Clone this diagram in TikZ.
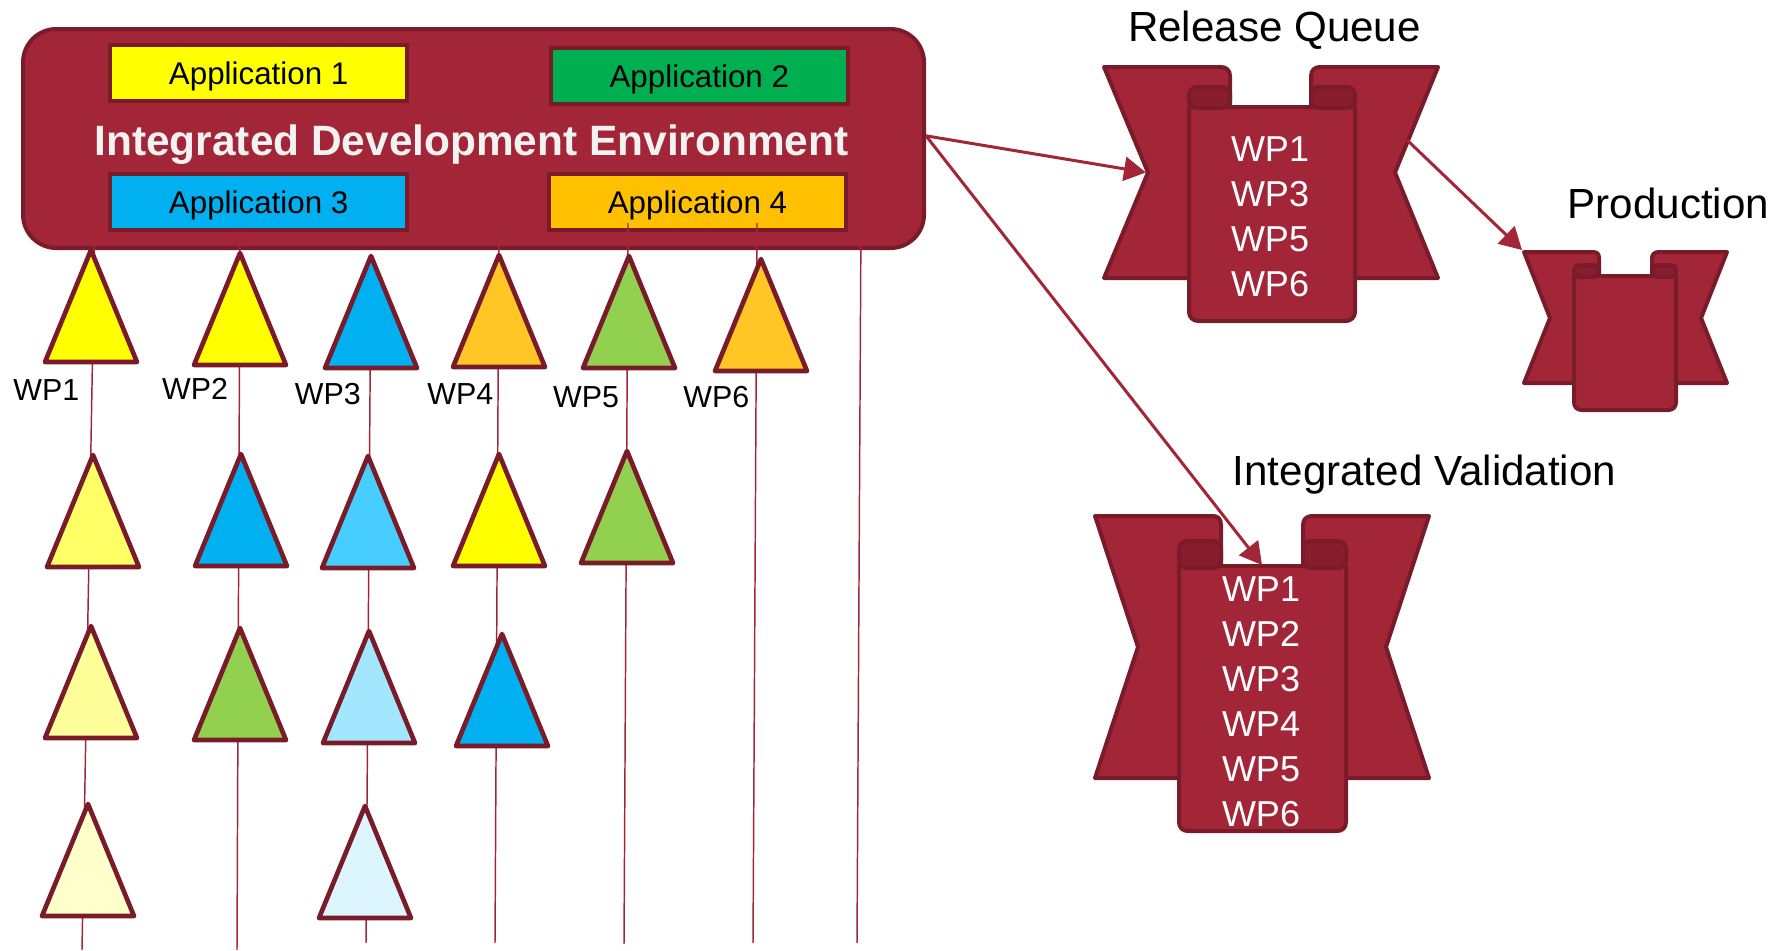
\documentclass[tikz,border=0pt]{standalone}
\usepackage{fontspec}
\setmainfont{Liberation Sans}
\usetikzlibrary{arrows.meta}

\definecolor{ideRed}{RGB}{163,38,56}
\definecolor{ideEdge}{RGB}{122,27,42}
\definecolor{curlRed}{RGB}{136,29,46}
\definecolor{appYellow}{RGB}{255,255,0}
\definecolor{appGreen}{RGB}{0,176,80}
\definecolor{appBlue}{RGB}{0,176,240}
\definecolor{appOrange}{RGB}{255,192,0}
\definecolor{wpGold}{RGB}{255,198,37}
\definecolor{wpLime}{RGB}{146,208,80}
\definecolor{wpYellowA}{RGB}{255,255,102}
\definecolor{wpYellowB}{RGB}{255,255,153}
\definecolor{wpYellowC}{RGB}{255,255,204}
\definecolor{wpBlueA}{RGB}{71,205,255}
\definecolor{wpBlueB}{RGB}{163,231,255}
\definecolor{wpBlueC}{RGB}{221,245,255}

\tikzset{
  idebox/.style={draw=ideEdge, line width=3pt, fill=ideRed, rounded corners=25pt,
    minimum width=675.75pt, minimum height=164.25pt, inner sep=0pt},
  appbox/.style={draw=ideEdge, line width=3.2pt, minimum width=222.75pt, minimum height=42pt,
    inner sep=0pt, text height=17.2pt, text depth=0pt, font=\fontsize{23.5}{28}\selectfont},
  idetitle/.style={text=white!95!black, inner sep=0pt, font=\bfseries\fontsize{31.8}{36}\selectfont},
  wire/.style={ideRed, line width=1.1pt},
  wptri/.style={draw=ideEdge, line width=3.5pt, line join=round},
  scrollpart/.style={draw=ideEdge, fill=ideRed, line width=3pt, line join=round},
  curlpart/.style={draw=ideEdge, fill=curlRed, line width=3pt, rounded corners=6pt},
  flow/.style={ideRed, line width=2.25pt, -{Triangle[length=16.5pt,width=18pt]}},
  titletext/.style={inner sep=0pt, font=\fontsize{31.6}{38}\selectfont},
  wpwhite/.style={text=white, inner sep=0pt, font=\fontsize{27}{32}\selectfont},
  wpblack/.style={inner sep=0pt, font=\fontsize{22.8}{27}\selectfont}
}

\begin{document}
\begin{tikzpicture}[x=0.75pt,y=0.75pt,yscale=-1,xscale=1]
\useasboundingbox (0,0) rectangle (1777,950);

%Shape: Rounded Rect
\node[idebox] (ide) at (473.5,138.5) {};
%Shape: Rectangle
\node[appbox, fill=appYellow] (app1) at (258.7,72.7) {Application 1};
\node[appbox, fill=appGreen] (app2) at (699.3,76.3) {Application 2};
\node[appbox, fill=appBlue] (app3) at (258.7,202) {Application 3};
\node[appbox, fill=appOrange] (app4) at (697.5,202) {Application 4};
% Text Node
\node[idetitle, anchor=base] (idetext) at (471.5,155) {Integrated Development Environment};

%Straight Lines
\coordinate (w1top) at (95,217);  \coordinate (w1end) at (82,950);
\coordinate (w2top) at (240,230); \coordinate (w2end) at (237,950);
\coordinate (w3top) at (371,256); \coordinate (w3end) at (366,943);
\coordinate (w4top) at (499,222); \coordinate (w4end) at (495,943);
\coordinate (w5top) at (628,223); \coordinate (w5end) at (624,944);
\coordinate (w6top) at (757,223); \coordinate (w6end) at (753,943);
\coordinate (w7top) at (861,220); \coordinate (w7end) at (857,943);
\draw[wire] (w1top) -- (w1end);
\draw[wire] (w2top) -- (w2end);
\draw[wire] (w3top) -- (w3end);
\draw[wire] (w4top) -- (w4end);
\draw[wire] (w5top) -- (w5end);
\draw[wire] (w6top) -- (w6end);
\draw[wire] (w7top) -- (w7end);

%Shape: Triangle (first row)
\draw[wptri, fill=appYellow] (91,250) -- ++(46,112) -- ++(-92,0) -- cycle;
\draw[wptri, fill=appYellow] (240,253) -- ++(46,112) -- ++(-92,0) -- cycle;
\draw[wptri, fill=appBlue] (371,256) -- ++(46,112) -- ++(-92,0) -- cycle;
\draw[wptri, fill=wpGold] (499,255) -- ++(46,112) -- ++(-92,0) -- cycle;
\draw[wptri, fill=wpLime] (629,256) -- ++(46,112) -- ++(-92,0) -- cycle;
\draw[wptri, fill=wpGold] (761,259) -- ++(46,112) -- ++(-92,0) -- cycle;
%Shape: Triangle (second row)
\draw[wptri, fill=wpYellowA] (93,455) -- ++(46,112) -- ++(-92,0) -- cycle;
\draw[wptri, fill=appBlue] (241,454) -- ++(46,112) -- ++(-92,0) -- cycle;
\draw[wptri, fill=wpBlueA] (368,456) -- ++(46,112) -- ++(-92,0) -- cycle;
\draw[wptri, fill=appYellow] (499,454) -- ++(46,112) -- ++(-92,0) -- cycle;
\draw[wptri, fill=wpLime] (627,451) -- ++(46,112) -- ++(-92,0) -- cycle;
%Shape: Triangle (third row)
\draw[wptri, fill=wpYellowB] (91,626) -- ++(46,112) -- ++(-92,0) -- cycle;
\draw[wptri, fill=wpLime] (240,628) -- ++(46,112) -- ++(-92,0) -- cycle;
\draw[wptri, fill=wpBlueB] (369,631) -- ++(46,112) -- ++(-92,0) -- cycle;
\draw[wptri, fill=appBlue] (502,634) -- ++(46,112) -- ++(-92,0) -- cycle;
%Shape: Triangle (fourth row)
\draw[wptri, fill=wpYellowC] (88,804) -- ++(46,112) -- ++(-92,0) -- cycle;
\draw[wptri, fill=wpBlueC] (365,806) -- ++(46,112) -- ++(-92,0) -- cycle;

% Text Node
\node[wpblack, anchor=base] (wp1) at (46.3,400) {WP1};
\node[wpblack, anchor=base] (wp2) at (195,399.3) {WP2};
\node[wpblack, anchor=base] (wp3) at (327.8,404.3) {WP3};
\node[wpblack, anchor=base] (wp4) at (460.4,404.3) {WP4};
\node[wpblack, anchor=base] (wp5) at (586,407.3) {WP5};
\node[wpblack, anchor=base] (wp6) at (716.4,407.3) {WP6};

%Shape: Scroll (release queue)
\draw[scrollpart] (1104,67) -- (1221,67) .. controls (1226,67) and (1230,70) .. (1230,76) -- (1230,278) -- (1104,278) -- (1148,172.5) -- cycle;
\draw[scrollpart] (1438,67) -- (1320,67) .. controls (1315,67) and (1311,70) .. (1311,76) -- (1311,278) -- (1438,278) -- (1395,172.5) -- cycle;
\draw[scrollpart] (1189,107) -- (1189,312) .. controls (1189,317) and (1193,321) .. (1198,321) -- (1346,321) .. controls (1351,321) and (1355,317) .. (1355,312) -- (1355,107) -- cycle;
\draw[curlpart] (1189,87) rectangle (1230,108);
\draw[curlpart] (1311,87) rectangle (1355,108);

%Shape: Scroll (production)
\draw[scrollpart] (1524,252) -- (1593,252) .. controls (1597,252) and (1599,254) .. (1599,258) -- (1599,383) -- (1524,383) -- (1550,318) -- cycle;
\draw[scrollpart] (1727,252) -- (1659,252) .. controls (1655,252) and (1652,254) .. (1652,258) -- (1652,383) -- (1727,383) -- (1701,318) -- cycle;
\draw[scrollpart] (1574,276) -- (1574,402) .. controls (1574,407) and (1577,410) .. (1582,410) -- (1668,410) .. controls (1673,410) and (1676,407) .. (1676,402) -- (1676,276) -- cycle;
\draw[curlpart, rounded corners=4pt] (1574,265) rectangle (1599,277);
\draw[curlpart, rounded corners=4pt] (1652,265) rectangle (1676,277);

%Shape: Scroll (integrated validation)
\draw[scrollpart] (1095,516) -- (1213,516) .. controls (1218,516) and (1221,519) .. (1221,525) -- (1221,778) -- (1095,778) -- (1138,647) -- cycle;
\draw[scrollpart] (1429,516) -- (1312,516) .. controls (1307,516) and (1303,519) .. (1303,525) -- (1303,778) -- (1429,778) -- (1386,647) -- cycle;
\draw[scrollpart] (1179,566) -- (1179,822) .. controls (1179,828) and (1183,831) .. (1188,831) -- (1337,831) .. controls (1342,831) and (1346,828) .. (1346,822) -- (1346,566) -- cycle;
\draw[curlpart] (1179,541) rectangle (1221,568);
\draw[curlpart] (1303,541) rectangle (1346,568);

% Text Node
\node[titletext, anchor=base] (rqtitle) at (1274.5,41.7) {Release Queue};
\node[titletext, anchor=base] (prodtitle) at (1668.5,218.3) {Production};
\node[titletext, anchor=base] (ivtitle) at (1424.5,485) {Integrated Validation};

% Text Node
\node[wpwhite, anchor=base] (rq1) at (1270,161.7) {WP1};
\node[wpwhite, anchor=base] (rq3) at (1270,206.7) {WP3};
\node[wpwhite, anchor=base] (rq5) at (1270,251.7) {WP5};
\node[wpwhite, anchor=base] (rq6) at (1270,296.7) {WP6};
% Text Node
\node[wpwhite, anchor=base] (iv1) at (1261,601.5) {WP1};
\node[wpwhite, anchor=base] (iv2) at (1261,646.4) {WP2};
\node[wpwhite, anchor=base] (iv3) at (1261,691.3) {WP3};
\node[wpwhite, anchor=base] (iv4) at (1261,736.2) {WP4};
\node[wpwhite, anchor=base] (iv5) at (1261,781.1) {WP5};
\node[wpwhite, anchor=base] (iv6) at (1261,826) {WP6};

%Straight Lines
\coordinate (rqin) at (1146,172.5);
\coordinate (rqout) at (1407,140);
\coordinate (ivin) at (1262,565);
\coordinate (prodin) at (1522,250);
\draw[flow] ([yshift=-2pt]ide.east) -- (rqin);
\draw[flow] ([yshift=-2pt]ide.east) -- (ivin);
\draw[flow] (rqout) -- (prodin);

\end{tikzpicture}
\end{document}
